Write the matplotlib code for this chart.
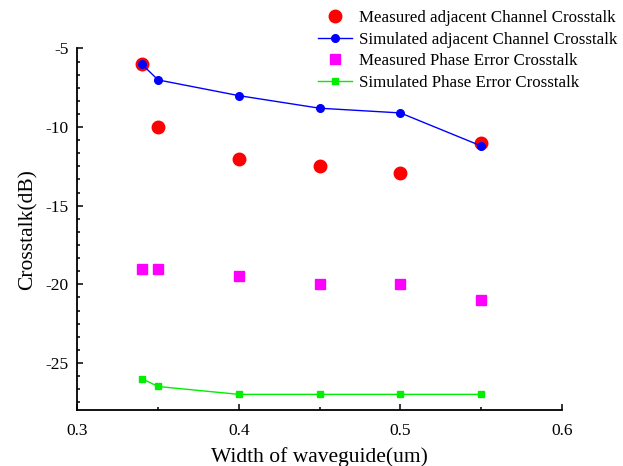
import matplotlib
matplotlib.use('Agg')
import matplotlib.pyplot as plt
from matplotlib.ticker import MultipleLocator, AutoMinorLocator

plt.rcParams['font.family'] = 'Liberation Serif'
plt.rcParams['axes.unicode_minus'] = False

# data
width = [0.34, 0.35, 0.40, 0.45, 0.50, 0.55]
meas_adj = [-6.0, -10.0, -12.0, -12.5, -12.9, -11.0]
sim_adj = [-6.0, -7.0, -8.0, -8.8, -9.1, -11.2]
meas_phase = [-19.0, -19.0, -19.5, -20.0, -20.0, -21.0]
sim_phase = [-26.0, -26.5, -27.0, -27.0, -27.0, -27.0]

fig = plt.figure(figsize=(6.23, 4.66), dpi=100)
ax = fig.add_axes([0.124, 0.120, 0.778, 0.776])

ax.plot(width, meas_adj, 'o', color='red', markersize=9, linestyle='none',
        label='Measured adjacent Channel Crosstalk')
ax.plot(width, sim_adj, '-o', color='blue', markersize=5.5, linewidth=1,
        label='Simulated adjacent Channel Crosstalk')
ax.plot(width, meas_phase, 's', color='magenta', markersize=7.5, linestyle='none',
        label='Measured Phase Error Crosstalk')
ax.plot(width, sim_phase, '-s', color='#00ee00', markersize=5, linewidth=1,
        label='Simulated Phase Error Crosstalk')

ax.set_xlim(0.3, 0.6)
ax.set_ylim(-28, -5)
ax.xaxis.set_major_locator(MultipleLocator(0.1))
ax.xaxis.set_minor_locator(AutoMinorLocator(2))
ax.yaxis.set_major_locator(MultipleLocator(5))
ax.yaxis.set_minor_locator(AutoMinorLocator(6))
ax.xaxis.set_major_formatter(plt.FuncFormatter(lambda v, p: f'{v:.1f}'))
ax.yaxis.set_major_formatter(plt.FuncFormatter(lambda v, p: f'{v:.0f}'))

ax.spines['top'].set_visible(False)
ax.spines['right'].set_visible(False)
ax.spines['left'].set_linewidth(1.3)
ax.spines['bottom'].set_linewidth(1.3)
ax.tick_params(which='major', direction='in', length=4.5, width=1.1, labelsize=12.5)
ax.tick_params(axis='x', which='major', pad=9)
ax.tick_params(axis='y', which='major', pad=6)
ax.tick_params(which='minor', direction='in', length=2.5, width=1.1)

ax.set_xlabel('Width of waveguide(um)', fontsize=15.5, labelpad=6)
ax.set_ylabel('Crosstalk(dB)', fontsize=15.5, labelpad=6)

ax.legend(loc='upper left', bbox_to_anchor=(0.494, 1.0), bbox_transform=fig.transFigure,
          frameon=False, fontsize=12.2, handlelength=2.0, handletextpad=0.4,
          labelspacing=0.33, borderaxespad=0.2)

fig.savefig('out.png', dpi=100)
